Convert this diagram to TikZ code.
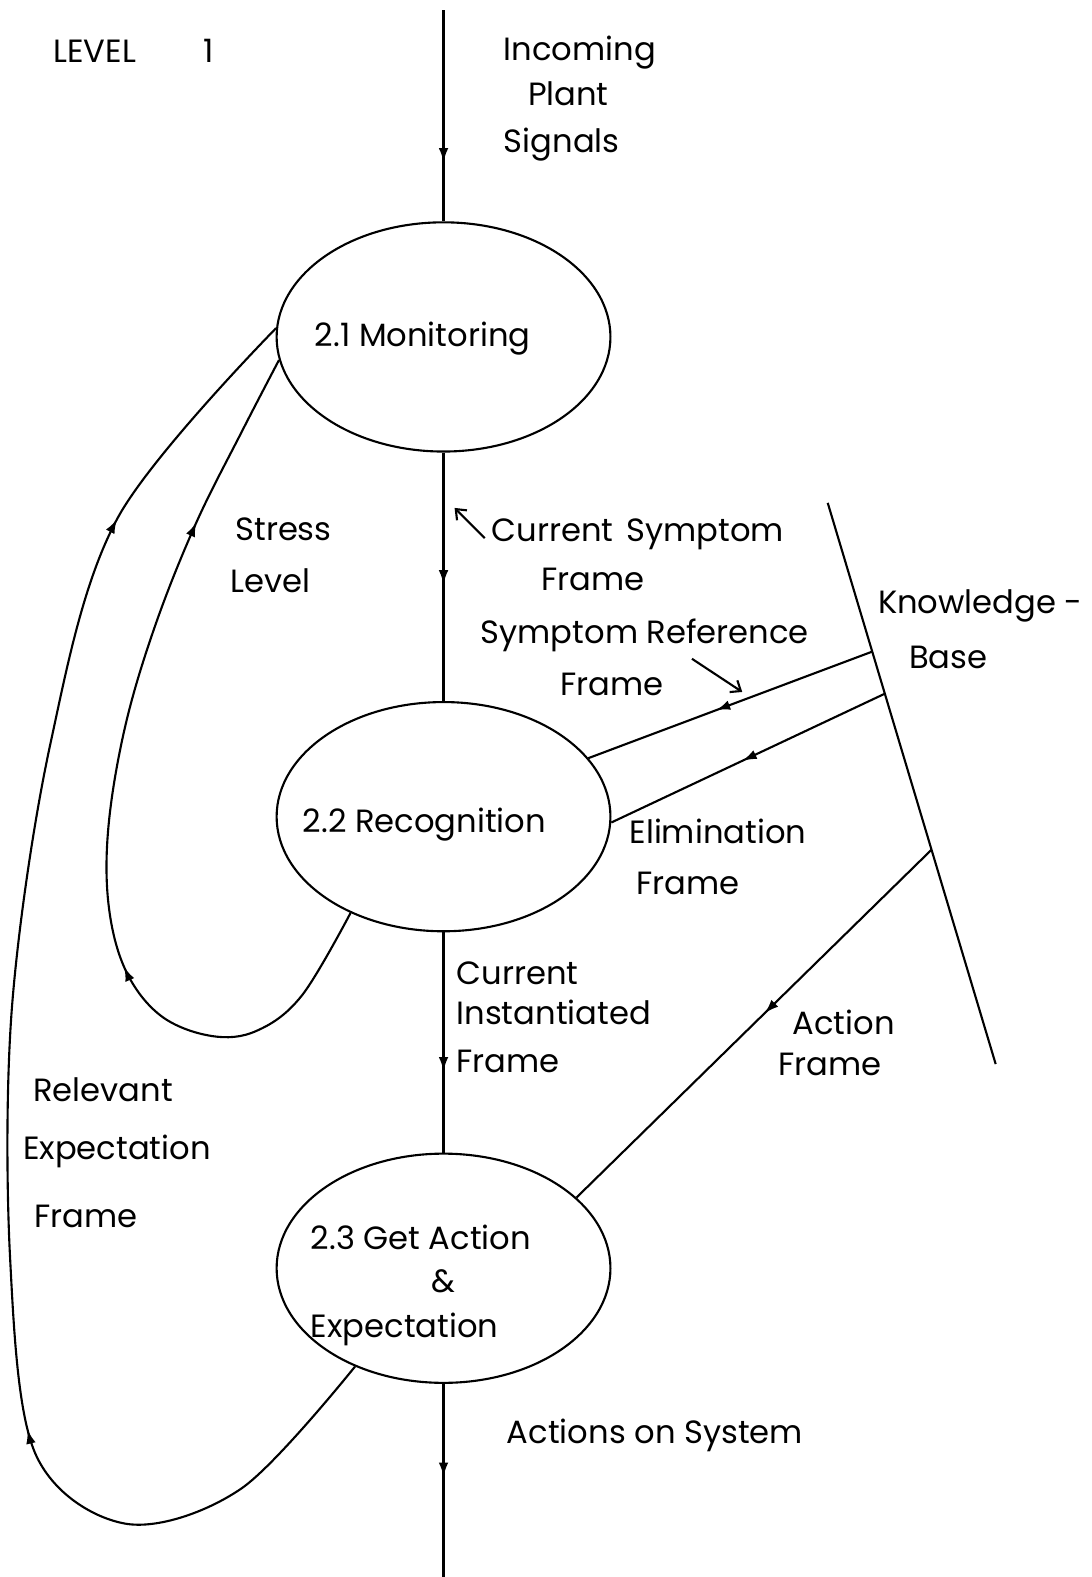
\documentclass[tikz,border=0pt]{standalone}
\usepackage{fontspec}
\setmainfont{Poppins}
\usetikzlibrary{shapes.geometric,arrows.meta,decorations.markings,calc}

\tikzset{
  flowtip/.tip={Latex[length=8pt,width=5.5pt]},
  procbox/.style={draw, ellipse, minimum width=6.67cm, minimum height=4.58cm, inner sep=0pt},
  lbl/.style={anchor=base west, inner sep=0pt, font=\fontsize{18.3}{22}\selectfont},
  flowmark/.style={postaction={decorate}, decoration={markings,
      mark=at position #1 with {\arrow{flowtip}}}},
  twomarks/.style 2 args={postaction={decorate}, decoration={markings,
      mark=at position #1 with {\arrow{flowtip}},
      mark=at position #2 with {\arrow{flowtip}}}},
  pointer/.style={-{Straight Barb[length=5pt,width=8pt]}}
}

\begin{document}
\begin{tikzpicture}[x=0.0201cm,y=-0.0201cm, line width=1.2pt]

\useasboundingbox (0,0) rectangle (1085,1568);

% processes
\node[procbox] (mon) at (441,335) {};
\node[procbox] (rec) at (441,812) {};
\node[procbox] (act) at (441,1261) {};

\node[lbl] (monT) at (312,345) {2.1 Monitoring};
\node[lbl] (recT) at (300,828) {2.2 Recognition};
\node[lbl] (actT) at (308,1242) {2.3 Get Action};
\node[lbl] (actA) at (428,1285) {\&};
\node[lbl] (actE) at (308,1330) {Expectation};

% main signal path
\coordinate (top) at (441,10);
\coordinate (bot) at (441,1568);
\draw[flowmark=0.72] (top) -- (mon.north);
\draw[flowmark=0.53] (mon.south) -- (rec.north);
\draw[flowmark=0.63] (rec.south) -- (act.north);
\draw[flowmark=0.48] (act.south) -- (bot);

% knowledge base boundary
\coordinate (kbA) at (823,500);
\coordinate (kbB) at (990,1058);
\draw (kbA) -- (kbB);
\coordinate (kb1) at ($(kbA)!0.265!(kbB)$);
\coordinate (kb2) at ($(kbA)!0.34!(kbB)$);
\coordinate (kb3) at ($(kbA)!0.618!(kbB)$);
\draw[flowmark=0.55] (kb1) -- (rec.22);
\draw[flowmark=0.52] (kb2) -- (rec.-2);
\draw[flowmark=0.47] (kb3) -- (act.28);

% feedback loops
\draw[twomarks={0.33}{0.81}] plot[smooth, tension=0.6] coordinates {(rec.226) (300,990) (255,1025) (210,1030) (160,1010) (125,965) (108,900) (108,820) (125,720) (155,620) (195,520) (240,430) (mon.188)};
\draw[twomarks={0.27}{0.845}] plot[smooth, tension=0.55] coordinates {(act.228) (240,1480) (125,1515) (35,1445) (10,1250) (12,1000) (50,740) (117,515) (mon.177)};

% small pointers
\coordinate (csA) at (482,535);
\coordinate (csB) at (452,505);
\draw[pointer] (csA) -- (csB);
\coordinate (srA) at (688,655);
\coordinate (srB) at (738,688);
\draw[pointer] (srA) -- (srB);

% labels
\node[lbl] (lev) at (52,62) {LEVEL\hspace{2.1em}1};
\node[lbl] (in1) at (500,60) {Incoming};
\node[lbl] (in2) at (524,105) {Plant};
\node[lbl] (in3) at (500,152) {Signals};
\node[lbl] (st1) at (233,537) {Stress};
\node[lbl] (st2) at (228,589) {Level};
\node[lbl] (cs1) at (488,538) {Current\hspace{0.4em}Symptom};
\node[lbl] (cs2) at (537,587) {Frame};
\node[lbl] (sr1) at (477,640) {Symptom Reference};
\node[lbl] (sr2) at (556,692) {Frame};
\node[lbl] (kb1T) at (872,610) {Knowledge -};
\node[lbl] (kb2T) at (903,665) {Base};
\node[lbl] (el1) at (625,839) {Elimination};
\node[lbl] (el2) at (632,889) {Frame};
\node[lbl] (ci1) at (453,979) {Current};
\node[lbl] (ci2) at (453,1019) {Instantiated};
\node[lbl] (ci3) at (453,1066) {Frame};
\node[lbl] (af1) at (787,1029) {Action};
\node[lbl] (af2) at (773,1069) {Frame};
\node[lbl] (re1) at (32,1095) {Relevant};
\node[lbl] (re2) at (22,1153) {Expectation};
\node[lbl] (re3) at (33,1220) {Frame};
\node[lbl] (aos) at (503,1435) {Actions on System};
\end{tikzpicture}
\end{document}
